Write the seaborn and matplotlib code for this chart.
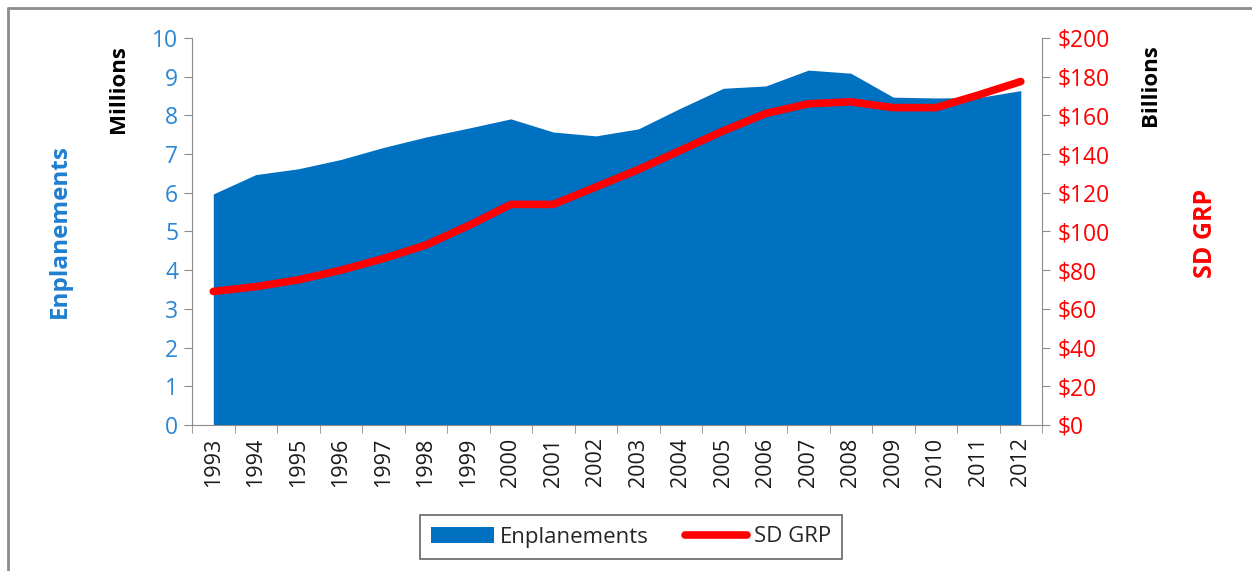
import numpy as np
import pandas as pd
import matplotlib
matplotlib.use("Agg")
import matplotlib.pyplot as plt
import seaborn as sns
from matplotlib.patches import Patch
from matplotlib.lines import Line2D
from matplotlib.ticker import FixedLocator, FuncFormatter

sns.set_style("white")
plt.rcParams["font.family"] = ["Open Sans", "DejaVu Sans"]

#### data
years = list(range(1993, 2013))
enplanements = [5.97, 6.47, 6.62, 6.86, 7.17, 7.44, 7.67, 7.91, 7.57, 7.47,
                7.65, 8.19, 8.70, 8.76, 9.17, 9.09, 8.47, 8.45, 8.46, 8.64]
sd_grp = [69, 71.5, 75, 80, 86, 93, 103, 114, 114, 123,
          132, 142, 152, 161, 166, 167, 164, 164, 170.5, 177.5]

df = pd.DataFrame({"Year": years, "Enplanements": enplanements, "SD GRP": sd_grp})

blue = "#0070C0"
tick_blue = "#2B86D3"
red = "#FF0000"
grey = "#8C8C8C"

fig = plt.figure(figsize=(12.52, 5.71), dpi=100)
ax1 = fig.add_axes([0.1534, 0.2557, 0.6789, 0.6778])
ax2 = ax1.twinx()

# area for enplanements
ax1.fill_between(df["Year"], 0, df["Enplanements"], color=blue, linewidth=0)
ax1.set_xlim(1992.5, 2012.5)
ax1.set_ylim(0, 10)
ax1.set_yticks(np.arange(0, 11, 1))

# GRP line
sns.lineplot(data=df, x="Year", y="SD GRP", ax=ax2, color=red, linewidth=5.5,
             solid_capstyle="round", legend=False)
ax2.set_ylim(0, 200)
ax2.set_yticks(np.arange(0, 201, 20))
ax2.yaxis.set_major_formatter(FuncFormatter(lambda v, p: "$%d" % v))
ax2.set_xlim(1992.5, 2012.5)
ax2.set_xlabel("")
ax2.set_ylabel("")
ax1.set_xlabel("")
ax1.set_ylabel("")

for a in [ax1, ax2]:
    for s in a.spines.values():
        s.set_visible(False)

ax1.spines["left"].set_visible(True)
ax1.spines["left"].set_color(grey)
ax1.spines["bottom"].set_visible(True)
ax1.spines["bottom"].set_color(grey)
ax2.spines["right"].set_visible(True)
ax2.spines["right"].set_color(grey)

ax1.set_xticks(years)
ax1.set_xticklabels([str(y) for y in years], rotation=90, fontsize=15.5, color="#1a1a1a")
ax1.xaxis.set_minor_locator(FixedLocator(np.arange(1992.5, 2013, 1)))
ax1.tick_params(axis="x", which="major", length=0, pad=9)
ax1.tick_params(axis="x", which="minor", length=6, color=grey, direction="out", bottom=True)
ax1.tick_params(axis="y", length=6, color=grey, direction="out", left=True,
                labelcolor=tick_blue, labelsize=16.5, pad=4)
ax2.tick_params(axis="y", length=6, color=grey, direction="out", right=True,
                labelcolor=red, labelsize=16.5, pad=5)

# axis titles
fig.text(60 / 1252, 1 - 231 / 571, "Enplanements", rotation=90, color="#1F7FD0",
         fontsize=17.5, fontweight="bold", ha="center", va="center")
fig.text(118 / 1252, 1 - 89 / 571, "Millions", rotation=90, color="black",
         fontsize=16, fontweight="bold", ha="center", va="center")
fig.text(1150 / 1252, 1 - 85 / 571, "Billions", rotation=90, color="black",
         fontsize=16, fontweight="bold", ha="center", va="center")
fig.text(1205 / 1252, 1 - 233 / 571, "SD GRP", rotation=90, color=red,
         fontsize=18, fontweight="bold", ha="center", va="center")

# legend
handles = [Patch(facecolor=blue, edgecolor="none"),
           Line2D([0], [0], color=red, linewidth=5.5, solid_capstyle="round")]
leg = fig.legend(handles, ["Enplanements", "SD GRP"], loc="center",
                 bbox_to_anchor=(631 / 1252, 1 - 537 / 571), ncol=2, frameon=True,
                 fancybox=False, fontsize=16, handlelength=2.8, handletextpad=0.3,
                 columnspacing=1.6, borderpad=0.5)
leg.get_frame().set_edgecolor("#404040")
leg.get_frame().set_linewidth(1.2)

# outer chart border, only left and top edges visible
fig.add_artist(Line2D([7.5 / 1252, 7.5 / 1252], [0, 1 - 7.5 / 571],
                      transform=fig.transFigure, color=grey, linewidth=2))
fig.add_artist(Line2D([7.5 / 1252, 1], [1 - 7.5 / 571, 1 - 7.5 / 571],
                      transform=fig.transFigure, color=grey, linewidth=2))

fig.savefig("out.png", dpi=100)
